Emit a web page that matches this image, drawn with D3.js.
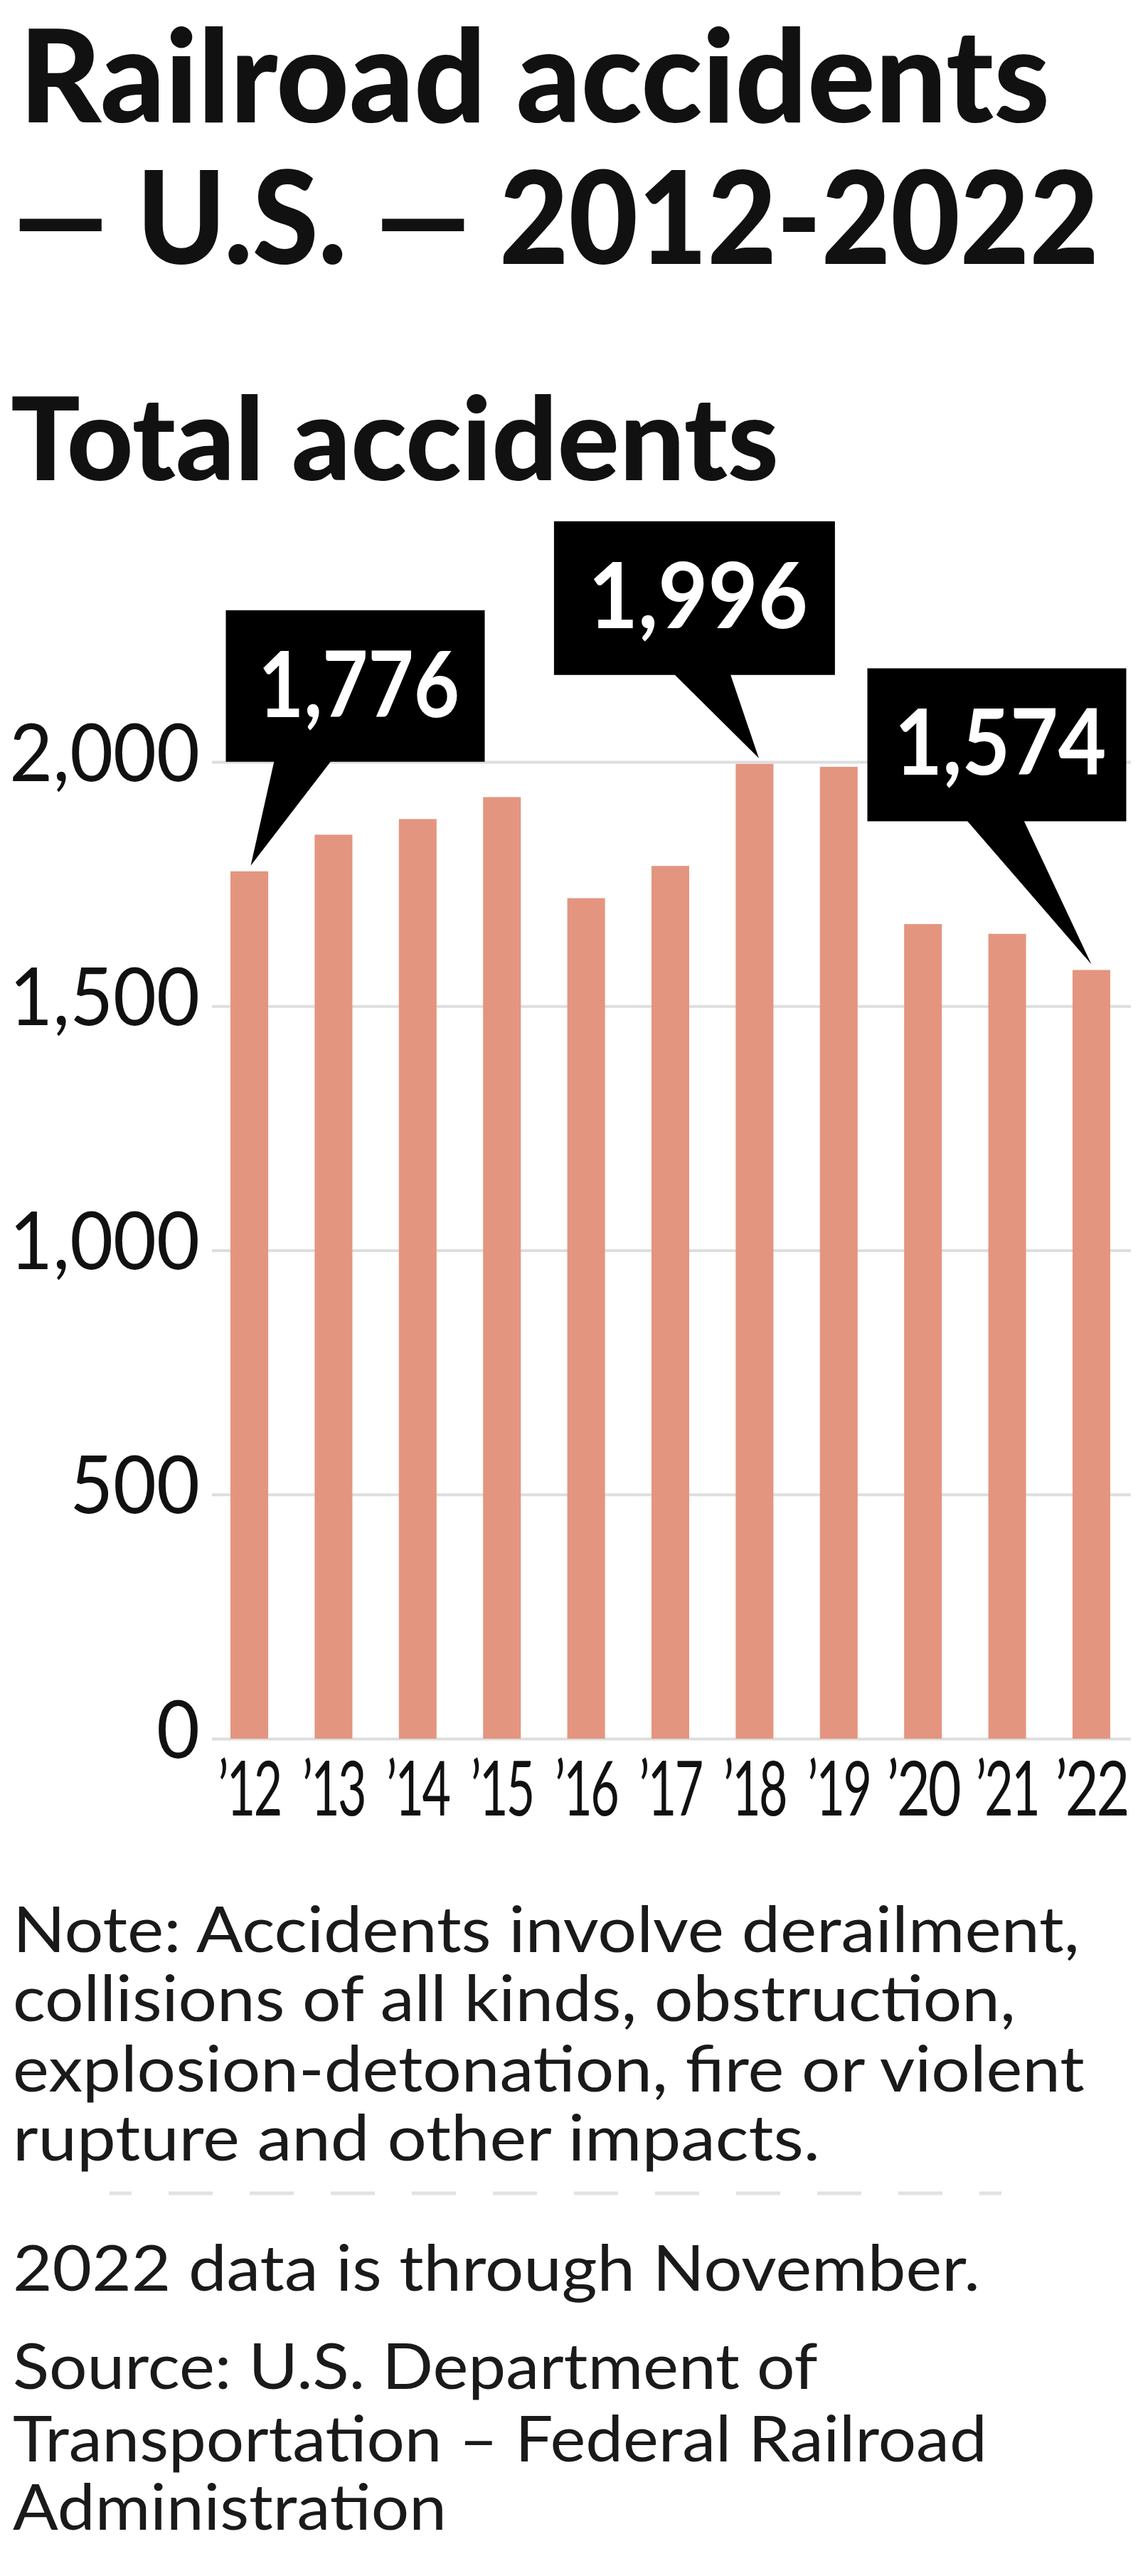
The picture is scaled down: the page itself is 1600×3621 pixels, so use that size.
<!DOCTYPE html>
<html>
<head>
<meta charset="utf-8">
<script src="https://cdn.jsdelivr.net/npm/d3@7"></script>
<style>
  html, body { margin: 0; padding: 0; background: #ffffff; }
  svg { display: block; }
</style>
</head>
<body>
<svg id="chart" width="1600" height="3621"></svg>
<script>
// ---------- data ----------
const categories = ["’12", "’13", "’14", "’15", "’16", "’17", "’18", "’19", "’20", "’21", "’22"];
const values = [1776, 1851, 1883, 1928, 1721, 1787, 1996, 1990, 1668, 1648, 1574];
const yTicks = [0, 500, 1000, 1500, 2000];
const calloutCategories = ["’12", "’18", "’22"];

const titleLines = ["Railroad accidents", "— U.S. — 2012-2022"];
const subtitle = "Total accidents";
const noteLines = [
  "Note: Accidents involve derailment,",
  "collisions of all kinds, obstruction,",
  "explosion-detonation, fire or violent",
  "rupture and other impacts."
];
const dataNote = "2022 data is through November.";
const sourceLines = [
  "Source: U.S. Department of",
  "Transportation – Federal Railroad",
  "Administration"
];

// ---------- layout ----------
const W = 1600, H = 3621;
const svg = d3.select("#chart");
svg.append("rect").attr("width", W).attr("height", H).attr("fill", "#ffffff");

const BAR = "#e4957f";
const GRID = "#dedede";
const INK = "#111111";
const BODY_FONT = "Lato, 'Open Sans', sans-serif";

// squeeze a text horizontally (about its anchor x) so its rendered width equals `width`
function fit(sel, width) {
  sel.each(function () {
    const len = this.getComputedTextLength();
    if (!(len > 0)) return;
    const s = width / len;
    const ax = +(this.getAttribute("x") || 0);
    d3.select(this).attr("transform",
      `translate(${ax},0) scale(${s},1) translate(${-ax},0)`);
  });
}

// Title
const titleLayout = [
  { x: 27, y: 172, w: 1449 },
  { x: 18, y: 371, w: 1527 }
];
titleLines.forEach((t, i) => {
  svg.append("text")
    .attr("x", titleLayout[i].x).attr("y", titleLayout[i].y)
    .attr("font-family", BODY_FONT).attr("font-weight", 900)
    .attr("font-size", 181).attr("fill", INK)
    .text(t).call(fit, titleLayout[i].w);
});

svg.append("text")
  .attr("x", 15).attr("y", 675)
  .attr("font-family", BODY_FONT).attr("font-weight", 900)
  .attr("font-size", 162).attr("fill", INK)
  .text(subtitle).call(fit, 1080);

// Scales
const y = d3.scaleLinear().domain([0, 2000]).range([2444, 1071]);
const x = d3.scaleBand().domain(categories).range([324, 1561])
  .paddingInner(0.552).paddingOuter(0);

const gridLeft = 298, gridRight = 1590;

// Y axis with gridlines
const yAxis = svg.append("g")
  .attr("transform", `translate(${gridLeft},0)`)
  .call(d3.axisLeft(y).tickValues(yTicks).tickFormat(d3.format(","))
    .tickSize(-(gridRight - gridLeft)).tickPadding(17));
yAxis.select(".domain").remove();
yAxis.selectAll(".tick line").attr("stroke", GRID).attr("stroke-width", 4);
yAxis.selectAll(".tick text")
  .attr("dy", null).attr("y", 26)
  .attr("font-family", BODY_FONT).attr("font-weight", 400)
  .attr("font-size", 113).attr("fill", INK);

// Bars
svg.append("g").selectAll("rect")
  .data(categories.map((c, i) => ({ c, v: values[i] })))
  .join("rect")
  .attr("x", d => x(d.c))
  .attr("width", x.bandwidth())
  .attr("y", d => y(d.v))
  .attr("height", d => y(0) - y(d.v))
  .attr("fill", BAR);

// X axis
const xAxis = svg.append("g")
  .attr("transform", `translate(0,${y(0)})`)
  .call(d3.axisBottom(x).tickSize(0).tickPadding(0));
xAxis.select(".domain").remove();
xAxis.selectAll(".tick text")
  .attr("dy", null).attr("y", 108)
  .attr("font-family", BODY_FONT).attr("font-weight", 400)
  .attr("font-size", 106).attr("fill", INK)
  .attr("letter-spacing", -4);

// Callouts
const calloutLayout = {
  "’12": { tipDx: 2, boxDx: -35, boxW: 364, bottomDy: -146, boxH: 213, baseL: 68, baseR: 148, textW: 283 },
  "’18": { tipDx: 6, boxDx: -288, boxW: 395, bottomDy: -117, boxH: 216, baseL: 169, baseR: 248, textW: 309 },
  "’22": { tipDx: 0, boxDx: -315, boxW: 364, bottomDy: -201, boxH: 215, baseL: 140, baseR: 220, textW: 298 }
};
const fmt = d3.format(",");
const cg = svg.append("g");
calloutCategories.forEach(c => {
  const v = values[categories.indexOf(c)];
  const L = calloutLayout[c];
  const tx = x(c) + x.bandwidth() / 2 + L.tipDx;
  const ty = y(v) - 8;
  const bx = tx + L.boxDx;
  const bb = ty + L.bottomDy;
  const bt = bb - L.boxH;
  cg.append("rect").attr("x", bx).attr("y", bt)
    .attr("width", L.boxW).attr("height", L.boxH).attr("fill", "#000");
  cg.append("path")
    .attr("d", `M${bx + L.baseL},${bb - 1} L${tx},${ty} L${bx + L.baseR},${bb - 1} Z`)
    .attr("fill", "#000");
  cg.append("text")
    .attr("x", bx + L.boxW / 2 + 5).attr("y", bt + 150)
    .attr("text-anchor", "middle")
    .attr("font-family", BODY_FONT).attr("font-weight", 700)
    .attr("font-size", 128).attr("fill", "#ffffff")
    .text(fmt(v)).call(fit, L.textW);
});

// Notes
const noteLayout = [
  { y: 2744, w: 1500 },
  { y: 2841, w: 1410 },
  { y: 2940, w: 1507 },
  { y: 3037, w: 1135 }
];
noteLines.forEach((t, i) => {
  svg.append("text")
    .attr("x", 18).attr("y", noteLayout[i].y)
    .attr("font-family", BODY_FONT).attr("font-weight", 400)
    .attr("font-size", 89).attr("fill", "#1a1a1a")
    .text(t).call(fit, noteLayout[i].w);
});

// Dashed separator
svg.append("line")
  .attr("x1", 154).attr("x2", 1408)
  .attr("y1", 3083).attr("y2", 3083)
  .attr("stroke", "#e2e2e2").attr("stroke-width", 5)
  .attr("stroke-dasharray", "62 52").attr("stroke-dashoffset", 31);

svg.append("text")
  .attr("x", 18).attr("y", 3220)
  .attr("font-family", BODY_FONT).attr("font-weight", 400)
  .attr("font-size", 89).attr("fill", "#1a1a1a")
  .text(dataNote).call(fit, 1360);

const sourceLayout = [
  { y: 3358, w: 1132 },
  { y: 3460, w: 1370 },
  { y: 3556, w: 610 }
];
sourceLines.forEach((t, i) => {
  svg.append("text")
    .attr("x", 18).attr("y", sourceLayout[i].y)
    .attr("font-family", BODY_FONT).attr("font-weight", 400)
    .attr("font-size", 89).attr("fill", "#1a1a1a")
    .text(t).call(fit, sourceLayout[i].w);
});

// Axis labels: narrow face like the original
yAxis.selectAll(".tick text").each(function () {
  const len = this.getComputedTextLength();
  d3.select(this).call(fit, len * 0.93);
});
xAxis.selectAll(".tick text").each(function (d) {
  d3.select(this).call(fit, d.includes("1") ? 88 : 102);
});
</script>
</body>
</html>
